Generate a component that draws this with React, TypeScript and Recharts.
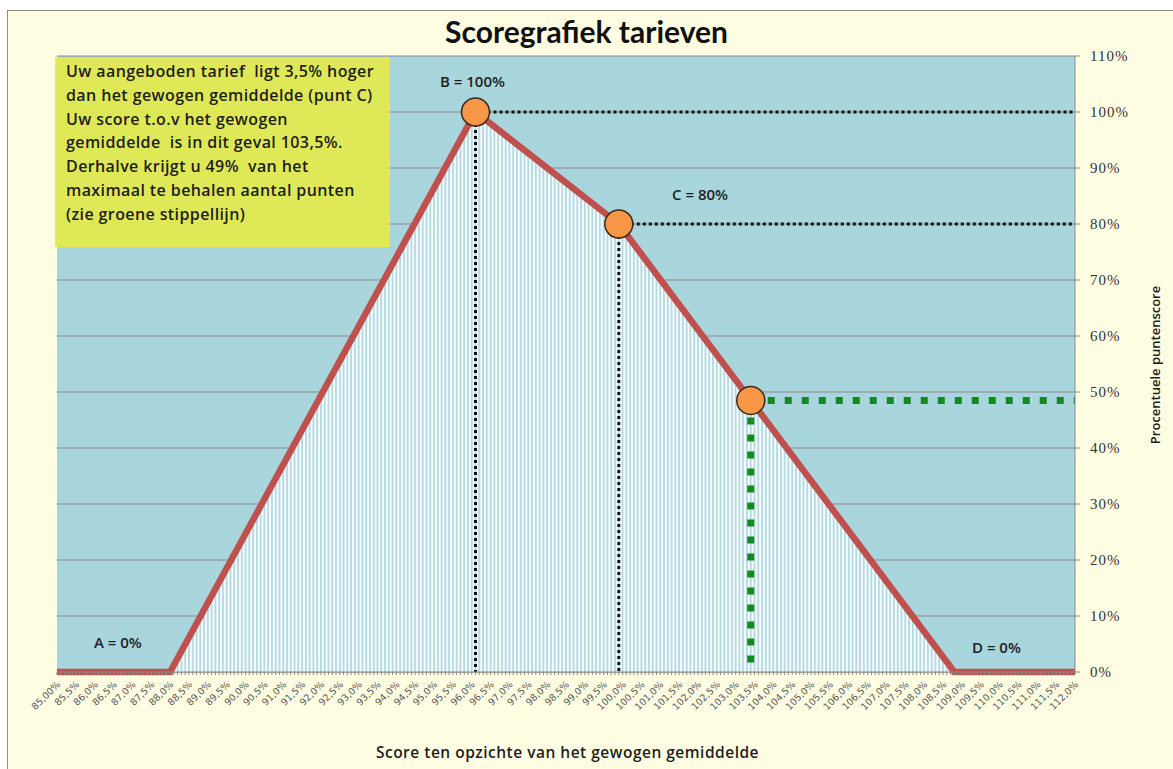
import { ComposedChart, Area, Scatter, XAxis, YAxis, CartesianGrid, ReferenceLine } from 'recharts'

// Score curve breakpoints (x = score vs. weighted average in %, y = % of points)
const curveX = [85, 88, 96.1, 99.9, 108.8, 112]
const curveY = [0, 0, 100, 80, 0, 0]

// Marked points B, C and the offered tariff
const markerX = [96.1, 99.9, 103.4]
const markerY = [100, 80, 48.5]

const xLabelValues = [
  85, 85.5, 86, 86.5, 87, 87.5, 88, 88.5, 89, 89.5, 90, 90.5, 91, 91.5, 92, 92.5, 93, 93.5,
  94, 94.5, 95, 95.5, 96, 96.5, 97, 97.5, 98, 98.5, 99, 99.5, 100, 100.5, 101, 101.5, 102, 102.5,
  103, 103.5, 104, 104.5, 105, 105.5, 106, 106.5, 107, 107.5, 108, 108.5, 109, 109.5, 110, 110.5,
  111, 111.5, 112,
]
const xLabels = [
  '85,00%', '85,5%', '86,0%', '86,5%', '87,0%', '87,5%', '88,0%', '88,5%', '89,0%', '89,5%', '90,0%',
  '90,5%', '91,0%', '91,5%', '92,0%', '92,5%', '93,0%', '93,5%', '94,0%', '94,5%', '95,0%', '95,5%',
  '96,0%', '96,5%', '97,0%', '97,5%', '98,0%', '98,5%', '99,0%', '99,5%', '100,0%', '100,5%', '101,0%',
  '101,5%', '102,0%', '102,5%', '103,0%', '103,5%', '104,0%', '104,5%', '105,0%', '105,5%', '106,0%',
  '106,5%', '107,0%', '107,5%', '108,0%', '108,5%', '109,0%', '109,5%', '110,0%', '110,5%', '111,0%',
  '111,5%', '112,0%',
]
const yTicks = [0, 10, 20, 30, 40, 50, 60, 70, 80, 90, 100, 110]

// minor tick marks every 0.1%
const minorTicks = Array.from({ length: 271 }, (_, i) => Math.round((85 + i * 0.1) * 10) / 10)

const curve = curveX.map((x, i) => ({ x, y: curveY[i] }))
const markers = markerX.map((x, i) => ({ x, y: markerY[i] }))

const B = markers[0], C = markers[1], P = markers[2]

const boxLines = [
  'Uw aangeboden tarief  ligt 3,5% hoger',
  'dan het gewogen gemiddelde (punt C)',
  'Uw score t.o.v het gewogen',
  'gemiddelde  is in dit geval 103,5%.',
  'Derhalve krijgt u 49%  van het',
  'maximaal te behalen aantal punten',
  '(zie groene stippellijn)',
]

const XTick = (props: any) => {
  const { x, y, payload } = props
  const idx = xLabelValues.findIndex(v => Math.abs(v - payload.value) < 1e-6)
  if (idx < 0) return <g />
  const ax = x + 4
  const ay = y + 8
  return (
    <text x={ax} y={ay} transform={`rotate(-45 ${ax} ${ay})`} textAnchor="end"
      fontFamily="DejaVu Sans" fontSize={9.5} fill="#5a5a5a">{xLabels[idx]}</text>
  )
}

const Dot = (props: any) => (
  <circle cx={props.cx} cy={props.cy} r={14} fill="#F79646" stroke="#3a2a1a" strokeWidth={1.5} />
)

const lbl = { position: 'absolute' as const, fontFamily: 'Open Sans', fontWeight: 600, fontSize: 15, color: '#1e1e1e', whiteSpace: 'nowrap' as const }

export default function App() {
  return (
    <div style={{ position: 'fixed', left: 0, top: 0, width: 1173, height: 769, overflow: 'hidden', background: '#fff' }}>
      <div style={{ position: 'absolute', left: 7, top: 10, width: 1175, height: 770, background: '#FFFDE2', border: '1.5px solid #8c8c8c' }} />
      <ComposedChart width={1173} height={769} data={curve}
        margin={{ top: 56, right: 38, bottom: 47, left: 57 }}
        style={{ position: 'absolute', left: 0, top: 0 }}>
        <defs>
          <pattern id="stripes" patternUnits="userSpaceOnUse" x={57} y={0} width={3.77} height={10}>
            <rect x={0} y={0} width={3.77} height={10} fill="#B5DBE2" />
            <rect x={1.1} y={0} width={1.7} height={10} fill="#ffffff" />
          </pattern>
        </defs>
        <CartesianGrid horizontal vertical={false} fill="#A9D5DD" stroke="#8a8a8a" strokeWidth={1} />
        <XAxis dataKey="x" type="number" domain={[85, 112]} ticks={minorTicks} interval={0}
          tick={<XTick />} tickLine={{ stroke: '#8a8a8a' }} tickSize={3}
          axisLine={{ stroke: '#8a8a8a' }} height={50} allowDataOverflow />
        <YAxis dataKey="y" type="number" orientation="right" domain={[0, 110]} ticks={yTicks}
          tickFormatter={v => `${v}%`} width={60} tickSize={5} tickMargin={10}
          tick={{ fontFamily: 'Liberation Serif', fontSize: 15, fill: '#333', letterSpacing: 1 }}
          tickLine={{ stroke: '#8a8a8a' }} axisLine={{ stroke: '#8a8a8a' }} />
        <Area type="linear" dataKey="y" stroke="#C0504D" strokeWidth={6.5} fill="url(#stripes)" fillOpacity={1}
          isAnimationActive={false} dot={false} activeDot={false} />
        <ReferenceLine segment={[{ x: B.x, y: B.y }, { x: 112, y: B.y }]} stroke="#111" strokeWidth={3} strokeDasharray="3 3" />
        <ReferenceLine segment={[{ x: B.x, y: B.y }, { x: B.x, y: 0 }]} stroke="#111" strokeWidth={3} strokeDasharray="3 3" />
        <ReferenceLine segment={[{ x: C.x, y: C.y }, { x: 112, y: C.y }]} stroke="#111" strokeWidth={3} strokeDasharray="3 3" />
        <ReferenceLine segment={[{ x: C.x, y: C.y }, { x: C.x, y: 0 }]} stroke="#111" strokeWidth={3} strokeDasharray="3 3" />
        <ReferenceLine segment={[{ x: P.x, y: P.y }, { x: 112, y: P.y }]} stroke="#138A1E" strokeWidth={7} strokeDasharray="7 10" />
        <ReferenceLine segment={[{ x: P.x, y: P.y }, { x: P.x, y: 0 }]} stroke="#138A1E" strokeWidth={7} strokeDasharray="7 10" />
        <Scatter data={markers} dataKey="y" shape={<Dot />} isAnimationActive={false} />
      </ComposedChart>

      <div style={{ position: 'absolute', left: 0, width: 1173, top: 13, textAlign: 'center', fontFamily: 'Lato', fontWeight: 700, fontSize: 30, color: '#111' }}>
        Scoregrafiek tarieven
      </div>

      <div style={{ position: 'absolute', left: 55, top: 57, width: 335, height: 190, background: 'rgba(227,235,77,0.93)', boxSizing: 'border-box', padding: '3px 0 0 11px' }}>
        {boxLines.map((t, i) => (
          <div key={i} style={{ fontFamily: 'Open Sans', fontWeight: 600, fontSize: 16, letterSpacing: 0.4, lineHeight: '23.8px', color: '#1e1e1e', whiteSpace: 'pre' }}>{t}</div>
        ))}
      </div>

      <div style={{ ...lbl, left: 440, top: 71 }}>B = 100%</div>
      <div style={{ ...lbl, left: 672, top: 184 }}>C = 80%</div>
      <div style={{ ...lbl, left: 94, top: 632 }}>A = 0%</div>
      <div style={{ ...lbl, left: 972, top: 637 }}>D = 0%</div>

      <div style={{ ...lbl, fontSize: 13, left: 1155, top: 365, transform: 'translate(-50%, -50%) rotate(-90deg)' }}>
        Procentuele puntenscore
      </div>
      <div style={{ ...lbl, fontSize: 15.5, letterSpacing: 0.5, left: 0, width: 1135, top: 741, textAlign: 'center' }}>
        Score ten opzichte van het gewogen gemiddelde
      </div>
    </div>
  )
}
